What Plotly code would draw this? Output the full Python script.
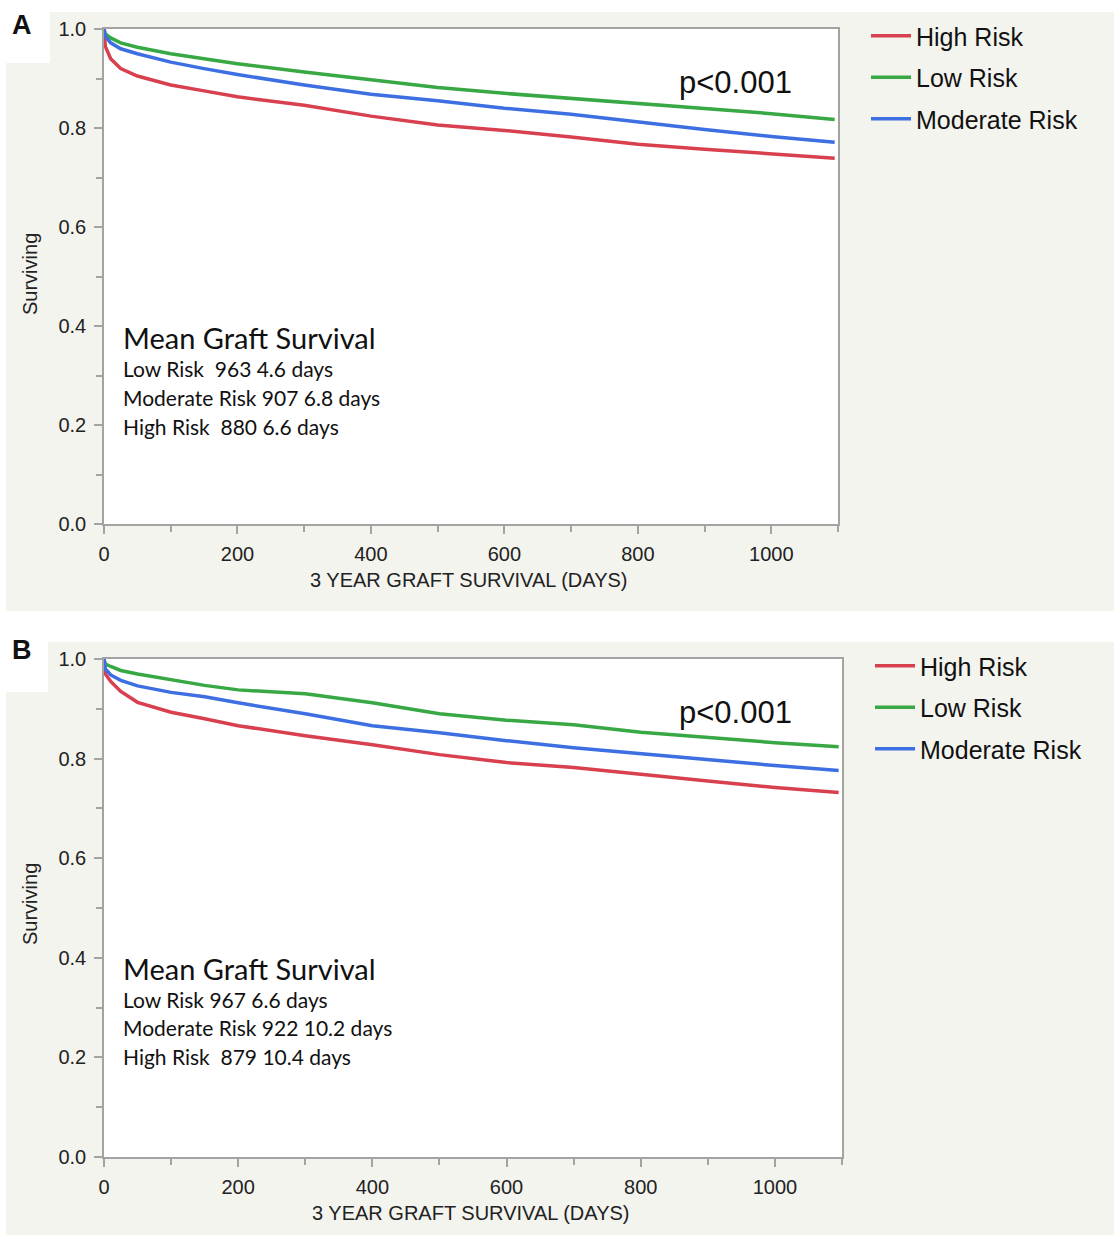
import plotly.graph_objects as go

# ---------------- data ----------------
days = [0, 2, 10, 25, 50, 100, 150, 200, 300, 400, 500, 600, 700, 800, 900, 1000, 1095]

# Panel A
a_high = [1.0, 0.965, 0.94, 0.92, 0.905, 0.887, 0.875, 0.863, 0.846, 0.824, 0.806, 0.795, 0.782, 0.767, 0.757, 0.748, 0.739]
a_low = [1.0, 0.99, 0.982, 0.972, 0.963, 0.95, 0.94, 0.93, 0.913, 0.897, 0.882, 0.87, 0.86, 0.85, 0.84, 0.829, 0.817]
a_mod = [1.0, 0.985, 0.972, 0.96, 0.95, 0.933, 0.92, 0.908, 0.887, 0.868, 0.855, 0.84, 0.828, 0.812, 0.797, 0.783, 0.771]

# Panel B
b_high = [1.0, 0.97, 0.955, 0.935, 0.913, 0.893, 0.88, 0.866, 0.846, 0.828, 0.808, 0.792, 0.782, 0.768, 0.755, 0.742, 0.732]
b_low = [1.0, 0.99, 0.985, 0.977, 0.97, 0.958, 0.947, 0.938, 0.93, 0.912, 0.89, 0.877, 0.868, 0.853, 0.842, 0.832, 0.824]
b_mod = [1.0, 0.98, 0.968, 0.957, 0.946, 0.933, 0.924, 0.912, 0.89, 0.866, 0.852, 0.836, 0.822, 0.81, 0.797, 0.786, 0.776]

series_names = ["High Risk", "Low Risk", "Moderate Risk"]
series_colors = ["#d8404f", "#37a843", "#3d6fe3"]

a_text = ["Low Risk\u00a0 963 4.6 days", "Moderate Risk 907 6.8 days", "High Risk\u00a0 880 6.6 days"]
b_text = ["Low Risk 967 6.6 days", "Moderate Risk 922 10.2 days", "High Risk\u00a0 879 10.4 days"]

x_ticks = [0, 200, 400, 600, 800, 1000]
y_ticks = [0.0, 0.2, 0.4, 0.6, 0.8, 1.0]
y_labels = ["0.0", "0.2", "0.4", "0.6", "0.8", "1.0"]

x_title = "3 YEAR GRAFT SURVIVAL (DAYS)"
y_title = "Surviving"

# ---------------- layout helpers ----------------
W, H = 1114, 1235
def px(x):
    return x / W
def py(y):
    return 1 - y / H

GRAY_BG = "#f4f4ef"
AX = "#a3a3a3"
FONT = "Liberation Sans, Arial, sans-serif"
TXT_FONT = "Lato, Open Sans, sans-serif"

fig = go.Figure()

panels = [
    dict(x="x", y="y", legend="legend", vals=[a_high, a_low, a_mod], tag="a"),
    dict(x="x2", y="y2", legend="legend2", vals=[b_high, b_low, b_mod], tag="b"),
]
for p in panels:
    for name, col, v in zip(series_names, series_colors, p["vals"]):
        fig.add_trace(go.Scatter(
            x=days, y=v, mode="lines", name=name,
            line=dict(color=col, width=3.5),
            xaxis=p["x"], yaxis=p["y"], legend=p["legend"],
            legendgroup=p["tag"] + name,
            hoverinfo="skip",
        ))

def xaxis_cfg(dom, anchor):
    return dict(
        domain=dom, anchor=anchor, range=[0, 1100], automargin=False,
        showline=True, linecolor=AX, linewidth=1.5, mirror=True,
        showgrid=False, zeroline=False,
        ticks="outside", ticklen=8, tickwidth=1.5, tickcolor=AX,
        tickvals=x_ticks, ticktext=[str(t) for t in x_ticks],
        tickfont=dict(family=FONT, size=20, color="#222"), ticklabelstandoff=3,
        minor=dict(dtick=100, tick0=0, ticks="outside", ticklen=6, tickwidth=1.5, tickcolor=AX),
        fixedrange=True,
    )

def yaxis_cfg(dom, anchor):
    return dict(
        domain=dom, anchor=anchor, range=[0, 1.0], automargin=False,
        showline=True, linecolor=AX, linewidth=1.5, mirror=True,
        showgrid=False, zeroline=False,
        ticks="outside", ticklen=8, tickwidth=1.5, tickcolor=AX,
        tickvals=y_ticks, ticktext=y_labels,
        tickfont=dict(family=FONT, size=20, color="#222"), ticklabelstandoff=4,
        minor=dict(dtick=0.1, tick0=0, ticks="outside", ticklen=6, tickwidth=1.5, tickcolor=AX),
        fixedrange=True,
    )

# panel geometry (pixels)
A_plot = (104, 29, 838, 524)
B_plot = (104, 659, 842, 1157)

shapes = []
for (x0, y0, x1, y1) in [(50, 12, 1114, 611), (6, 63, 1114, 611), (48, 642, 1114, 1235), (6, 692, 1114, 1235)]:
    shapes.append(dict(type="rect", xref="paper", yref="paper", x0=px(x0), x1=px(x1), y0=py(y1), y1=py(y0),
                       fillcolor=GRAY_BG, line=dict(width=0), layer="below"))
for (x0, y0, x1, y1) in [A_plot, B_plot]:
    shapes.append(dict(type="rect", xref="paper", yref="paper", x0=px(x0), x1=px(x1), y0=py(y1), y1=py(y0),
                       fillcolor="white", line=dict(width=0), layer="below"))

annotations = []
for lab, yy in [("A", 25), ("B", 650)]:
    annotations.append(dict(text="<b>" + lab + "</b>", xref="paper", yref="paper", x=px(22), y=py(yy),
                            xanchor="center", yanchor="middle", showarrow=False,
                            font=dict(family=FONT, size=27, color="#111")))
for yy in [82, 712]:
    annotations.append(dict(text="p<0.001", xref="paper", yref="paper", x=px(677), y=py(yy),
                            xanchor="left", yanchor="middle", showarrow=False,
                            font=dict(family=FONT, size=31, color="#111")))

# axis titles
for (x0, y0, x1, y1), xt_y in [(A_plot, 580), (B_plot, 1213)]:
    annotations.append(dict(text=x_title, xref="paper", yref="paper", x=px((x0 + x1) / 2 - 2), y=py(xt_y),
                            xanchor="center", yanchor="middle", showarrow=False,
                            font=dict(family=FONT, size=20, color="#222")))
for yc in [274, 904]:
    annotations.append(dict(text=y_title, xref="paper", yref="paper", x=px(30), y=py(yc),
                            xanchor="center", yanchor="middle", showarrow=False, textangle=-90,
                            font=dict(family=FONT, size=20, color="#222")))

for texts, ytitle in [(a_text, 338), (b_text, 968)]:
    annotations.append(dict(text="Mean Graft Survival", xref="paper", yref="paper", x=px(121), y=py(ytitle),
                            xanchor="left", yanchor="middle", showarrow=False,
                            font=dict(family=TXT_FONT, size=29, color="#111")))
    for i, t in enumerate(texts):
        annotations.append(dict(text=t, xref="paper", yref="paper", x=px(121), y=py(ytitle + 31 + 28.5 * i),
                                xanchor="left", yanchor="middle", showarrow=False,
                                font=dict(family=TXT_FONT, size=21, color="#111")))

legend_common = dict(
    bgcolor="rgba(0,0,0,0)", borderwidth=0,
    font=dict(family=FONT, size=25, color="#111"),
    xanchor="left", yanchor="top", itemwidth=40, tracegroupgap=6,
    traceorder="grouped",
)

fig.update_layout(
    width=W, height=H,
    margin=dict(l=0, r=0, t=0, b=0, autoexpand=False),
    paper_bgcolor="white", plot_bgcolor="rgba(0,0,0,0)",
    showlegend=True,
    xaxis=xaxis_cfg([px(A_plot[0]), px(A_plot[2])], "y"),
    yaxis=yaxis_cfg([py(A_plot[3]), py(A_plot[1])], "x"),
    xaxis2=xaxis_cfg([px(B_plot[0]), px(B_plot[2])], "y2"),
    yaxis2=yaxis_cfg([py(B_plot[3]), py(B_plot[1])], "x2"),
    legend=dict(x=px(866), y=py(13), **legend_common),
    legend2=dict(x=px(870), y=py(643), **legend_common),
    shapes=shapes,
    annotations=annotations,
)

fig.write_html("out.html")
